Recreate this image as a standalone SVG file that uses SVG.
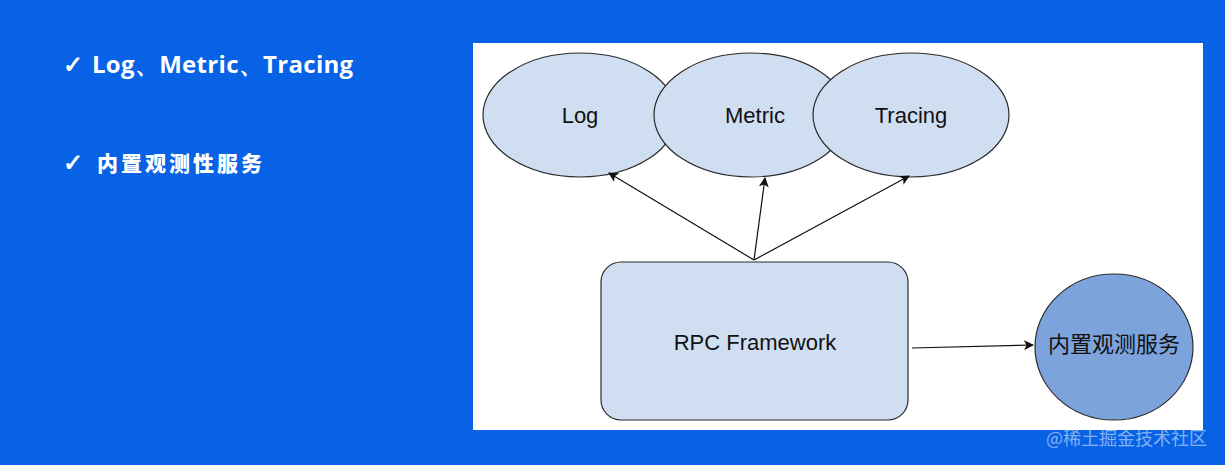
<svg xmlns="http://www.w3.org/2000/svg" width="1225" height="465" viewBox="0 0 1225 465">
<defs>
<style>
.bg{fill:#0762E6}
.panel{fill:#ffffff}
.node{fill:#D0DEF2;stroke:#2b2b2b;stroke-width:1.2}
.dark{fill:#7DA3DC;stroke:#2b2b2b;stroke-width:1.2}
.lbl{font-family:"Liberation Sans",Arial,sans-serif;font-size:22px;fill:#111;text-anchor:middle;dominant-baseline:central}
.cjk{font-family:"Noto Sans CJK SC","Liberation Sans",sans-serif;font-size:22px;fill:#111;text-anchor:middle;dominant-baseline:central}
.conn{stroke:#111;stroke-width:1.2;fill:none;marker-end:url(#ah)}
.head{font-family:"Open Sans","Liberation Sans",sans-serif;font-weight:bold;font-size:24px;fill:#ffffff}
.headcjk{font-family:"Noto Sans CJK SC",sans-serif;font-weight:900;font-size:21px;fill:#ffffff;letter-spacing:3px}
.wm{font-family:"Noto Sans CJK SC","Liberation Sans",sans-serif;font-size:18px;fill:#ffffff;fill-opacity:0.5}
</style>
<marker id="ah" viewBox="0 0 10 10" refX="9" refY="5" markerWidth="10" markerHeight="10" markerUnits="userSpaceOnUse" orient="auto">
<path d="M0,0 L10,5 L0,10 L2.5,5 z" fill="#111"/>
</marker>
</defs>
<rect class="bg" x="0" y="0" width="1225" height="465"/>
<g id="bullets">
<text class="head" x="63" y="73">✓<tspan x="92" letter-spacing="0.3px">Log、Metric、Tracing</tspan></text>
<text class="headcjk" x="63" y="171"><tspan font-family="Open Sans,sans-serif" font-weight="bold" font-size="24px">✓</tspan><tspan x="97">内置观测性服务</tspan></text>
</g>
<rect class="panel" x="473" y="43" width="730" height="387"/>
<g id="node-log">
<ellipse class="node" cx="580" cy="115" rx="97" ry="62"/>
<text class="lbl" x="580" y="115">Log</text>
</g>
<g id="node-metric">
<ellipse class="node" cx="751" cy="115" rx="97" ry="62"/>
<text class="lbl" x="755" y="115">Metric</text>
</g>
<g id="node-tracing">
<ellipse class="node" cx="911" cy="115" rx="98" ry="62"/>
<text class="lbl" x="911" y="115">Tracing</text>
</g>
<g id="node-rpc">
<rect class="node" x="601" y="262" width="307" height="158" rx="20" ry="20"/>
<text class="lbl" x="755" y="342">RPC Framework</text>
</g>
<g id="node-service">
<ellipse class="dark" cx="1114" cy="347" rx="79" ry="73"/>
<text class="cjk" x="1114" y="342">内置观测服务</text>
</g>
<g id="connectors">
<line class="conn" x1="754" y1="260" x2="609" y2="173"/>
<line class="conn" x1="754" y1="260" x2="765" y2="178"/>
<line class="conn" x1="754" y1="260" x2="909" y2="176"/>
<line class="conn" x1="912" y1="348" x2="1033" y2="345"/>
</g>
<text class="wm" x="1046" y="445">@稀土掘金技术社区</text>
</svg>
